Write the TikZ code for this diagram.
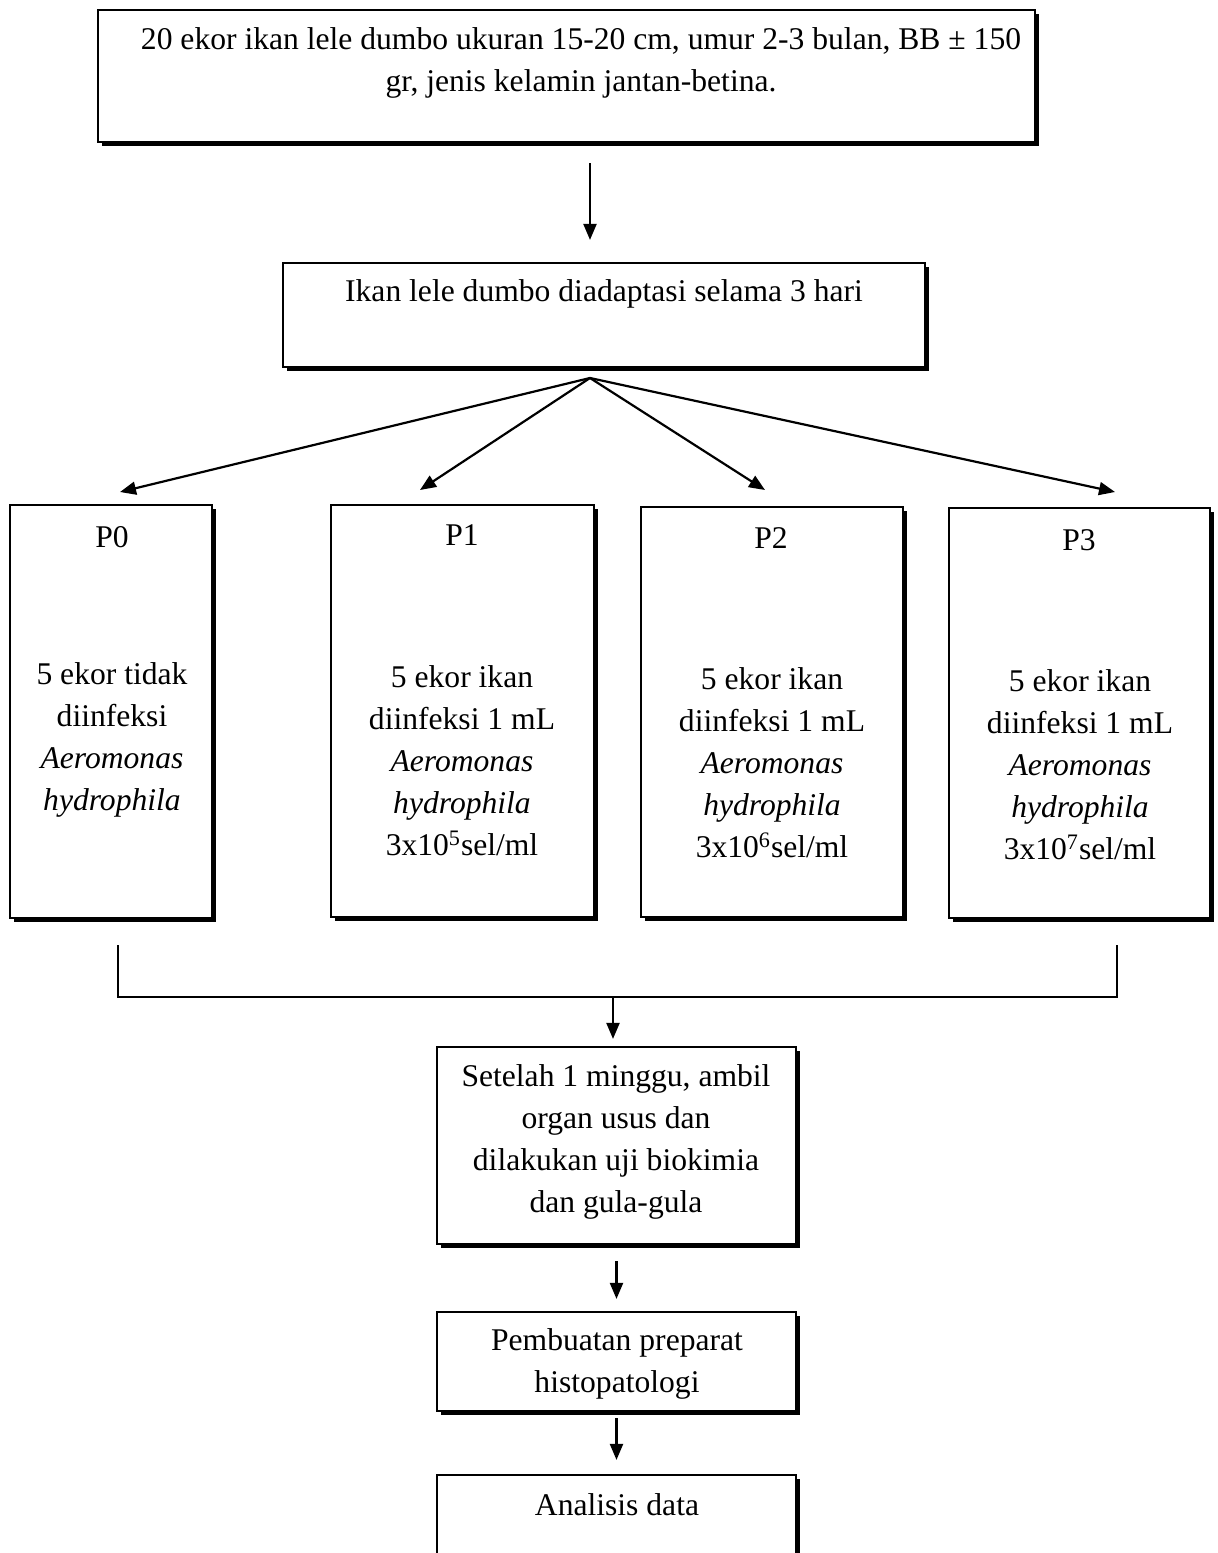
\documentclass[tikz,border=0pt]{standalone}
\usepackage{fontspec}
\setmainfont{Liberation Serif}
\usetikzlibrary{arrows.meta,fit,shadows}

\begin{document}
\begin{tikzpicture}[x=0.5pt, y=-0.5pt,
    box/.style={draw, line width=1.1pt, fill=white, inner sep=0pt,
      drop shadow={shadow xshift=2pt, shadow yshift=-2pt, fill=black, opacity=1}},
    txt/.style={align=center, font=\fontsize{15.8}{21}\selectfont, inner sep=0pt},
    arrow/.style={line width=1.1pt, -{Triangle[length=8pt, width=6.5pt]}},
    line/.style={line width=1.1pt}]
  \useasboundingbox (0,0) rectangle (1217,1553);

  % boxes
  \node [box, fit={(98,10) (1035,142)}] (sample) {};
  \node [box, fit={(283,263) (925,367)}] (adapt) {};
  \node [box, fit={(10,505) (212,918)}] (p0) {};
  \node [box, fit={(331,505) (594,917)}] (p1) {};
  \node [box, fit={(641,507) (903,917)}] (p2) {};
  \node [box, fit={(949,508) (1210,918)}] (p3) {};
  \node [box, fit={(437,1047) (796,1244)}] (check) {};
  \node [box, fit={(437,1312) (796,1411)}] (slide) {};
  \node [box, fit={(437,1475) (796,1570)}] (result) {};

  % texts
  \node [txt] (sampletxt) at (581,63) {20 ekor ikan lele dumbo ukuran 15-20 cm, umur 2-3 bulan, BB ± 150\\gr, jenis kelamin jantan-betina.};
  \node [txt] (adapttxt) at (604,294) {Ikan lele dumbo diadaptasi selama 3 hari};
  \node [txt] (p0title) at (112,537) {P0};
  \node [txt] (p1title) at (462,535) {P1};
  \node [txt] (p2title) at (771,538) {P2};
  \node [txt] (p3title) at (1079,540) {P3};
  \node [txt] (p0txt) at (112,740) {5 ekor tidak\\diinfeksi\\\textit{Aeromonas}\\\textit{hydrophila}};
  \node [txt] (p1txt) at (462,761) {5 ekor ikan\\diinfeksi 1 mL\\\textit{Aeromonas}\\\textit{hydrophila}\\3x10\textsuperscript{5}sel/ml};
  \node [txt] (p2txt) at (772,763) {5 ekor ikan\\diinfeksi 1 mL\\\textit{Aeromonas}\\\textit{hydrophila}\\3x10\textsuperscript{6}sel/ml};
  \node [txt] (p3txt) at (1080,765) {5 ekor ikan\\diinfeksi 1 mL\\\textit{Aeromonas}\\\textit{hydrophila}\\3x10\textsuperscript{7}sel/ml};
  \node [txt] (checktxt) at (616,1142) {Setelah 1 minggu, ambil\\organ usus dan\\dilakukan uji biokimia\\dan gula-gula};
  \node [txt] (slidetxt) at (617,1364) {Pembuatan preparat\\histopatologi};
  \node [txt] (resulttxt) at (617,1505) {Analisis data};

  % connectors
  \coordinate (fork) at (590,378);
  \coordinate (tip0) at (120,492);
  \coordinate (tip1) at (420,490);
  \coordinate (tip2) at (765,490);
  \coordinate (tip3) at (1115,492);
  \coordinate (l0) at (118,945);
  \coordinate (l3) at (1117,945);
  \coordinate (join) at (613,997);

  \draw [arrow] ([yshift=-10pt]sample.south -| fork) -- ([yshift=11pt]adapt.north -| fork);
  \foreach \t in {tip0,tip1,tip2,tip3}
    \draw [arrow] (fork) -- (\t);
  \draw [line] (l0) -- (l0 |- join) -- (l3 |- join) -- (l3);
  \draw [arrow] (join) -- ([yshift=3.5pt]check.north -| join);
  \draw [arrow] ([yshift=-8pt]check.south) -- ([yshift=6pt]slide.north);
  \draw [arrow] ([yshift=-3pt]slide.south) -- ([yshift=7pt]result.north);
\end{tikzpicture}
\end{document}
